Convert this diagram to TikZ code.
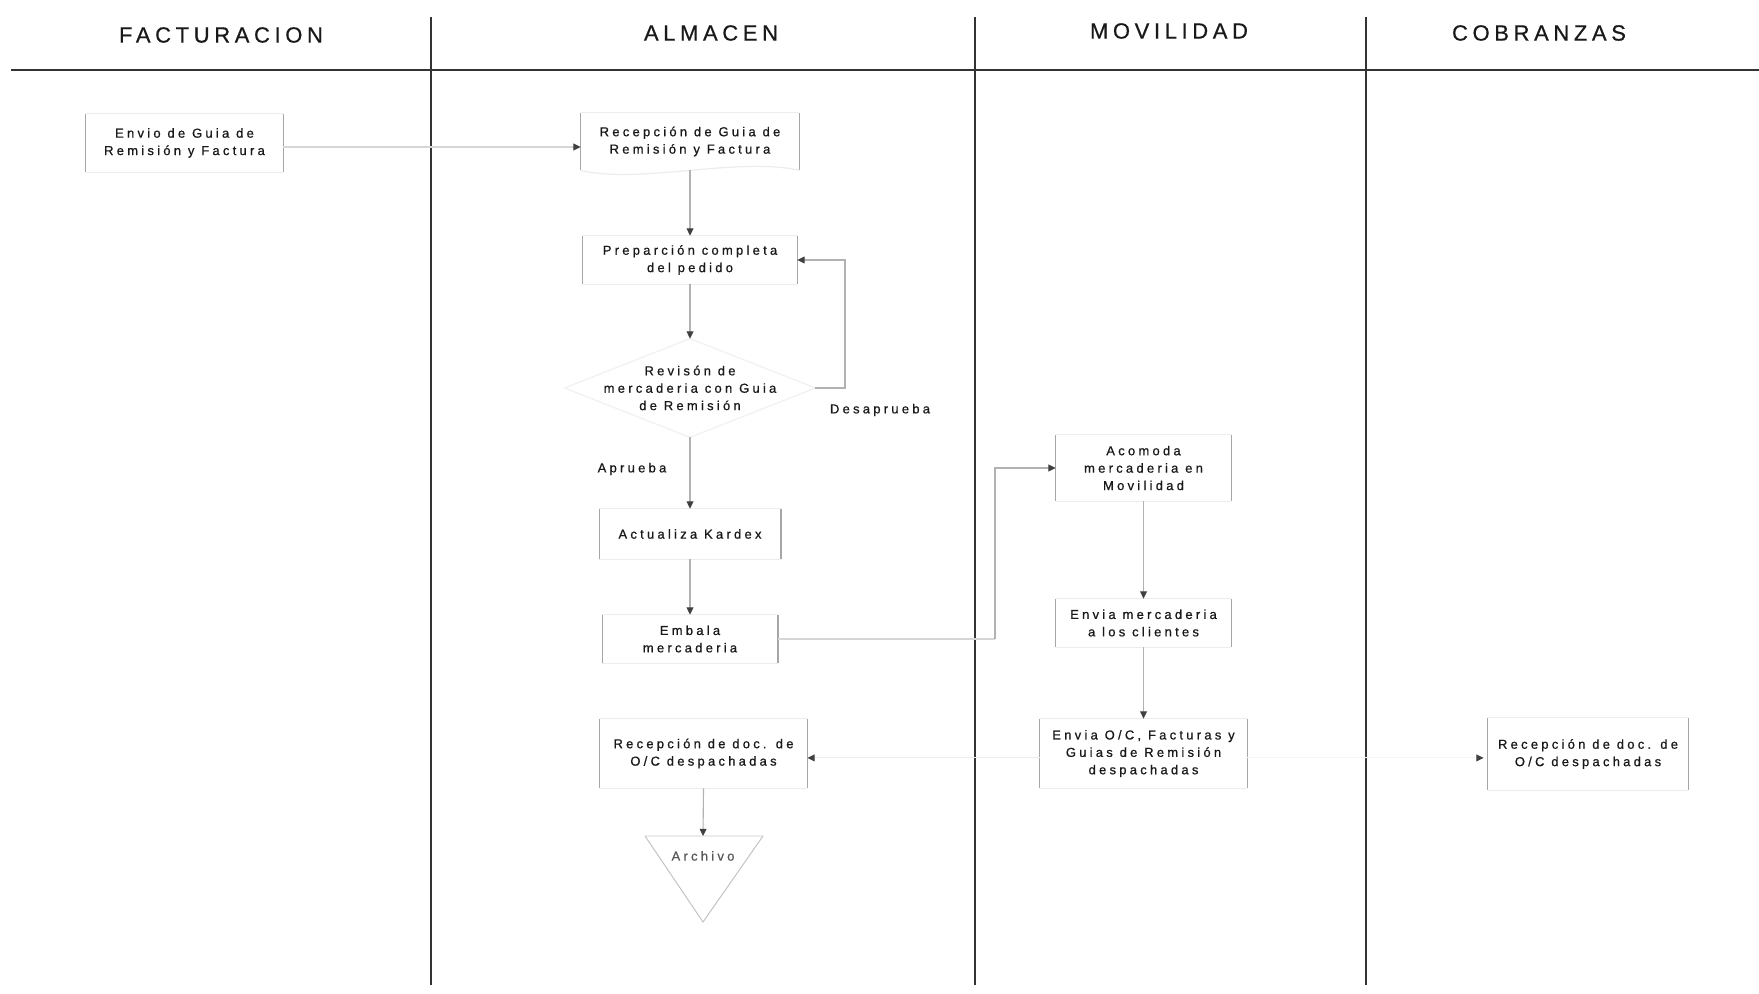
\documentclass[tikz,border=0pt]{standalone}
\usepackage{fontspec}
\usetikzlibrary{arrows.meta,calc}
\newfontfamily\boxfont[LetterSpace=25,FakeBold=0.7]{Liberation Sans}
\newfontfamily\headfont[LetterSpace=21,FakeBold=0.6]{Liberation Sans}

\begin{document}
\begin{tikzpicture}[x=0.5pt,y=-0.5pt,
  box/.style={inner sep=0pt, align=center, font=\boxfont\fontsize{6.5}{8.7}\selectfont, text=black!90},
  lbl/.style={inner sep=0pt, font=\boxfont\fontsize{6.5}{8.7}\selectfont, text=black!90},
  head/.style={inner sep=0pt, font=\headfont\fontsize{11}{13}\selectfont, text=black!90},
  lane/.style={line width=1.3pt, draw=black!80},
  boxside/.style={line width=0.6pt, draw=gray!70},
  boxrim/.style={line width=0.6pt, draw=gray!15},
  conn/.style={line width=0.55pt, draw=gray!60},
  lightconn/.style={line width=0.55pt, draw=gray!32},
  faintconn/.style={line width=0.55pt, draw=gray!14},
  arrowed/.style={-{Triangle[length=3.6pt,width=3.4pt,color=black!75]}},
]
\useasboundingbox (0,0) rectangle (1759,994);
\fill[white] (0,0) rectangle (1759,994);

% swimlane frame
\draw[lane] (11,70) -- (1759,70);
\draw[lane] (431,17) -- (431,985);
\draw[lane] (975,17) -- (975,985);
\draw[lane] (1366,17) -- (1366,985);

% lane titles
\node[head] (hfac) at (221,35) {FACTURACION};
\node[head] (halm) at (711,33) {ALMACEN};
\node[head] (hmov) at (1169,31) {MOVILIDAD};
\node[head] (hcob) at (1539,33) {COBRANZAS};

% process steps
\node[box, minimum width=98.5pt, minimum height=29pt] (envio) at (184.5,143) {Envio de Guia de\\Remisión y Factura};
\node[box, minimum width=109pt, minimum height=28.5pt] (recg) at (690,141.5) {Recepción de Guia de\\Remisión y Factura};
\node[box, minimum width=107pt, minimum height=24pt] (prep) at (690,260) {Preparción completa\\del pedido};
\node[box, minimum width=125pt, minimum height=49pt] (rev) at (690,388) {Revisón de\\mercaderia con Guia\\de Remisión};
\node[box, minimum width=90.5pt, minimum height=25pt] (kard) at (690,534) {Actualiza Kardex};
\node[box, minimum width=87.5pt, minimum height=24pt] (emb) at (690,639) {Embala\\mercaderia};
\node[box, minimum width=87.5pt, minimum height=33pt] (acom) at (1143.5,468) {Acomoda\\mercaderia en\\Movilidad};
\node[box, minimum width=87.5pt, minimum height=24pt] (envm) at (1143.5,623) {Envia mercaderia\\a los clientes};
\node[box, minimum width=103.5pt, minimum height=34.5pt] (envoc) at (1143.5,753.5) {Envia O/C, Facturas y\\Guias de Remisión\\despachadas};
\node[box, minimum width=103.5pt, minimum height=34.5pt] (recd) at (703.5,753.5) {Recepción de doc. de\\O/C despachadas};
\node[box, minimum width=100pt, minimum height=36pt] (cobr) at (1588,754) {Recepción de doc. de\\O/C despachadas};

% box outlines: strong sides, faint top and bottom
\foreach \n in {envio,recg,prep,kard,emb,acom,envm,envoc,recd,cobr}{
  \draw[boxside] (\n.north west) -- (\n.south west) (\n.north east) -- (\n.south east);
}
\foreach \n in {envio,prep,kard,emb,acom,envm,envoc,recd,cobr}{
  \draw[boxrim] (\n.north west) -- (\n.north east) (\n.south west) -- (\n.south east);
}
% document shape with wavy bottom
\draw[boxrim] (recg.north west) -- (recg.north east);
\draw[boxrim] (recg.south west) .. controls +(60,14) and +(-60,-14) .. (recg.south east);

% decision
\draw[boxrim, draw=gray!11] (rev.north) -- (rev.east) -- (rev.south) -- (rev.west) -- cycle;

% archive
\node[lbl, text=black!65] (arch) at (703,856) {Archivo};
\coordinate (archTL) at (645,836);
\coordinate (archTR) at (763,836);
\coordinate (archT) at (703,836);
\coordinate (archB) at (703,922);
\draw[boxrim] (archTL) -- (archTR);
\draw[line width=0.45pt, draw=gray!50] (archTL) -- (archB) -- (archTR);

% flow
\draw[lightconn, arrowed] ([yshift=-2pt]envio.east) -- ([yshift=-2pt]envio.east -| recg.west);
\draw[conn, arrowed] (recg.south) -- (prep.north);
\draw[conn, arrowed] (prep.south) -- (rev.north);
\draw[conn, arrowed] (rev.south) -- (kard.north);
\node[lbl] (apr) at (632,469) {Aprueba};
\coordinate (dturn) at (845,388);
\draw[conn, arrowed] (rev.east) -- (dturn) |- (prep.east);
\node[lbl] (desap) at (880,410) {Desaprueba};
\draw[conn, arrowed] (kard.south) -- (emb.north);
\coordinate (eturn) at (995,639);
\draw[lightconn] (emb.east) -- (eturn);
\draw[conn, arrowed] (eturn) |- (acom.west);
\draw[conn, arrowed] (acom.south) -- (envm.north);
\draw[conn, arrowed] (envm.south) -- (envoc.north);
\draw[faintconn, arrowed] ([yshift=-2.2pt]envoc.west) -- ([yshift=-2.2pt]envoc.west -| recd.east);
\draw[conn, arrowed] (recd.south) -- (archT);
\draw[faintconn, draw=gray!8, arrowed, shorten >=2pt] ([yshift=-2.2pt]envoc.east) -- ([yshift=-2.2pt]envoc.east -| cobr.west);
\end{tikzpicture}
\end{document}
